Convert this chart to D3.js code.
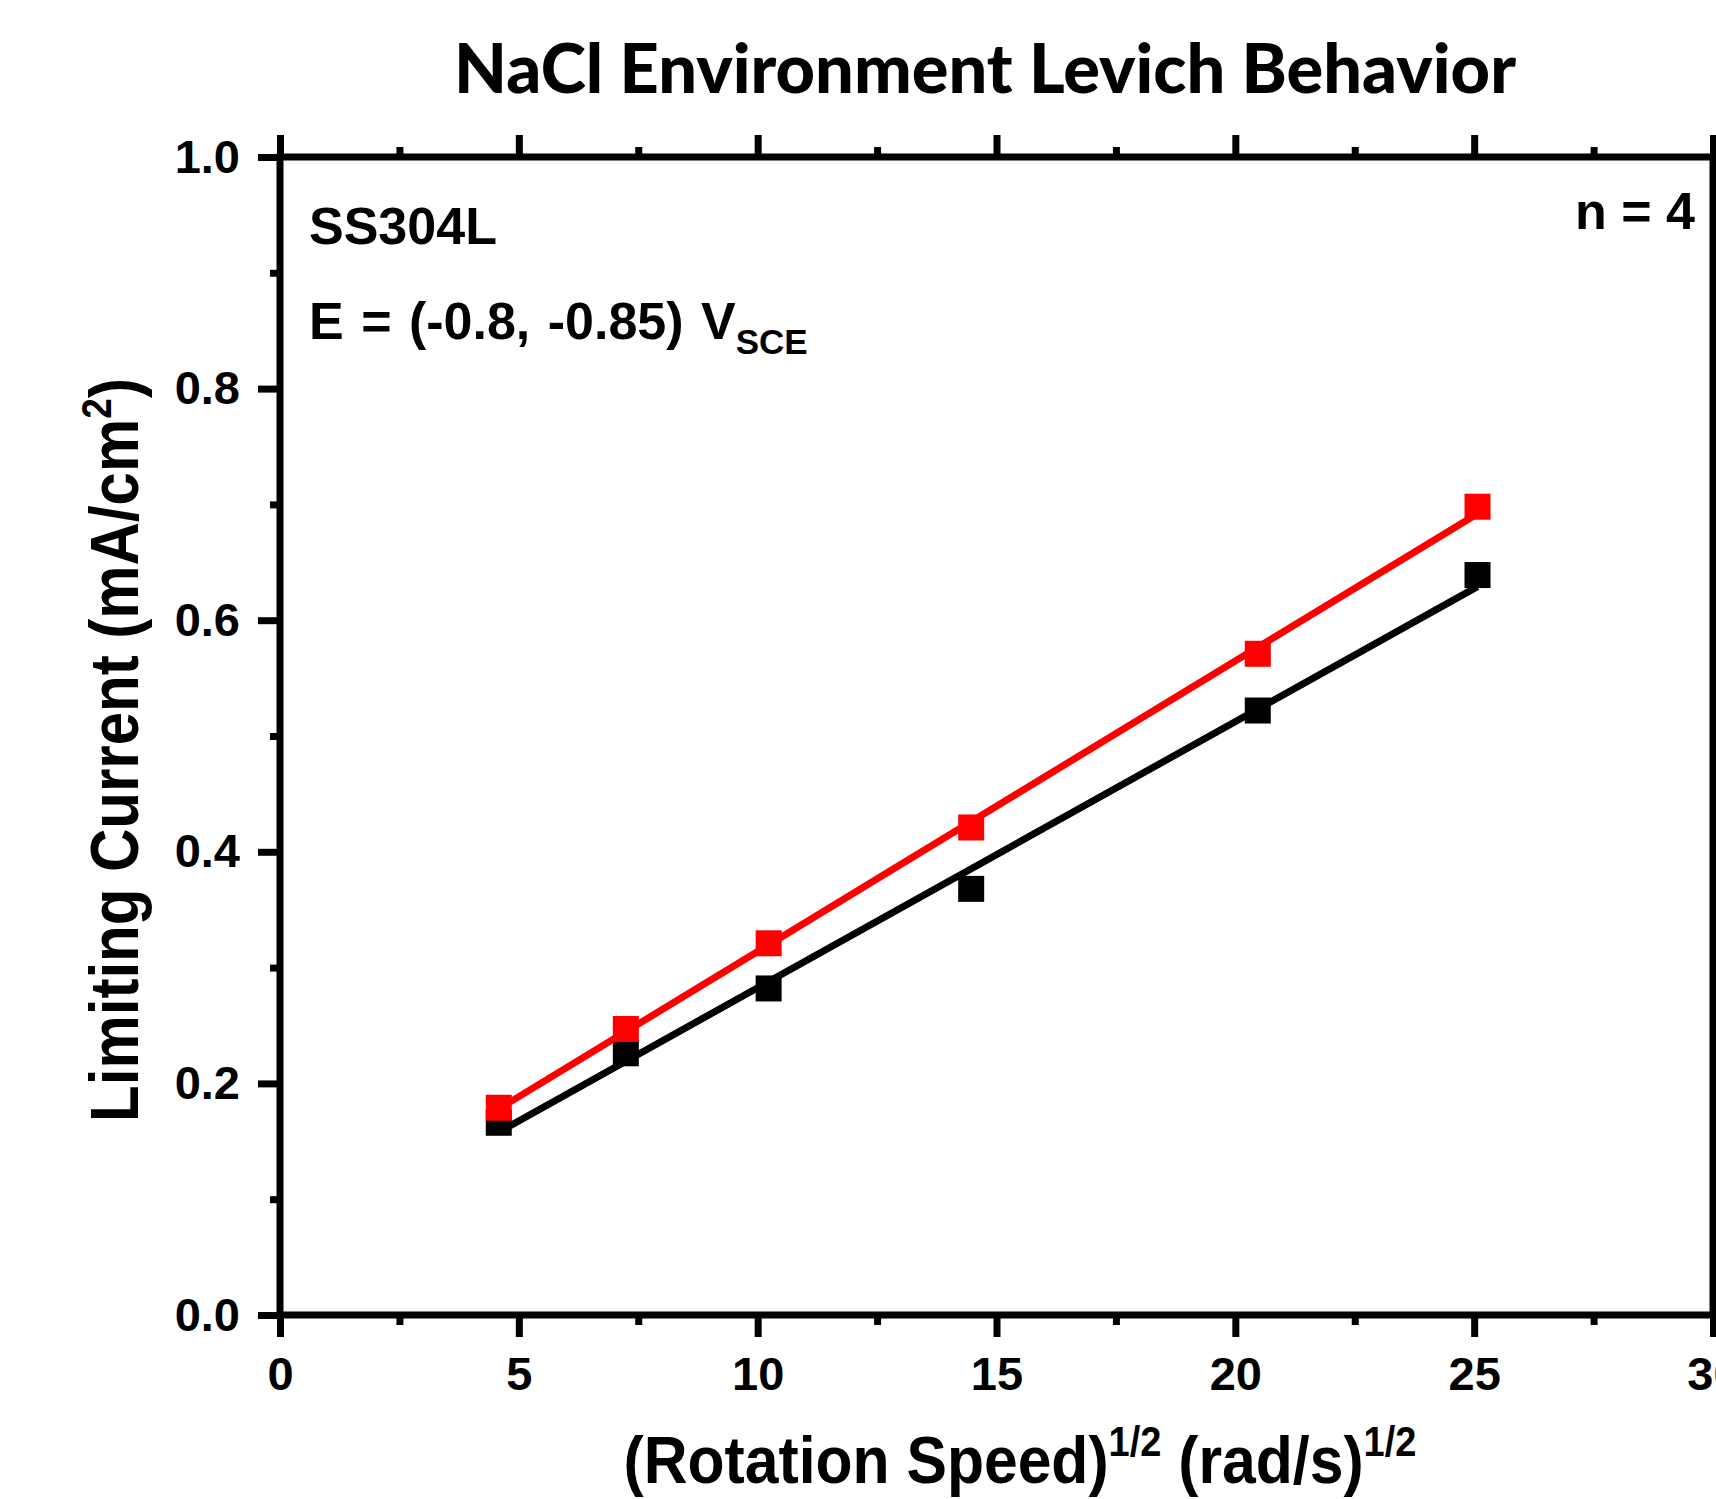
<!DOCTYPE html>
<html>
<head>
<meta charset="utf-8">
<script src="https://cdn.jsdelivr.net/npm/d3@7"></script>
<style>
  html, body { margin: 0; padding: 0; background: #fff; }
  svg { display: block; }
  text { font-family: "Liberation Sans", Arial, sans-serif; font-weight: bold; fill: #000; }
</style>
</head>
<body>
<svg id="chart" width="1716" height="1499"></svg>
<script>
// ---- data ----
const rotationSqrt = [4.58, 7.24, 10.23, 14.47, 20.47, 25.07];   // (rad/s)^1/2
const currentLow  = [0.166, 0.226, 0.282, 0.368, 0.522, 0.639]; // black series, mA/cm2
const currentHigh = [0.179, 0.247, 0.321, 0.421, 0.571, 0.698]; // red series, mA/cm2
const fitX        = [4.58, 25.07];
const fitLow      = [0.158, 0.629];
const fitHigh     = [0.178, 0.692];
const xMajorTicks = [0, 5, 10, 15, 20, 25, 30];
const xMinorTicks = [2.5, 7.5, 12.5, 17.5, 22.5, 27.5];
const yMajorTicks = [0, 0.2, 0.4, 0.6, 0.8, 1.0];
const yMinorTicks = [0.1, 0.3, 0.5, 0.7, 0.9];

const svg = d3.select("#chart");
const L = 280, R = 1713, T = 157, B = 1315;
const x = d3.scaleLinear().domain([0, 30]).range([L, R]);
const y = d3.scaleLinear().domain([0, 1]).range([B, T]);

const AX_W = 7;
function styleAxis(g) {
  g.select(".domain").remove();
  g.selectAll(".tick line").attr("stroke", "#000").attr("stroke-width", AX_W);
  g.selectAll(".tick text").style("font-size", "47px").style("font-family", '"Liberation Sans", Arial, sans-serif').style("font-weight", "bold").attr("fill", "#000");
}

// bottom axis
svg.append("g").attr("transform", `translate(0,${B})`)
  .call(d3.axisBottom(x).tickValues(xMajorTicks).tickSize(22).tickSizeOuter(0).tickPadding(20).tickFormat(d3.format("d")))
  .call(styleAxis);
svg.append("g").attr("transform", `translate(0,${B})`)
  .call(d3.axisBottom(x).tickValues(xMinorTicks).tickSize(10).tickSizeOuter(0).tickFormat(""))
  .call(styleAxis);
// top axis
svg.append("g").attr("transform", `translate(0,${T})`)
  .call(d3.axisTop(x).tickValues(xMajorTicks).tickSize(22).tickSizeOuter(0).tickFormat(""))
  .call(styleAxis);
svg.append("g").attr("transform", `translate(0,${T})`)
  .call(d3.axisTop(x).tickValues(xMinorTicks).tickSize(10).tickSizeOuter(0).tickFormat(""))
  .call(styleAxis);
// left axis
svg.append("g").attr("transform", `translate(${L},0)`)
  .call(d3.axisLeft(y).tickValues(yMajorTicks).tickSize(22).tickSizeOuter(0).tickPadding(18).tickFormat(d3.format(".1f")))
  .call(styleAxis);
svg.append("g").attr("transform", `translate(${L},0)`)
  .call(d3.axisLeft(y).tickValues(yMinorTicks).tickSize(10).tickSizeOuter(0).tickFormat(""))
  .call(styleAxis);
// right axis
svg.append("g").attr("transform", `translate(${R},0)`)
  .call(d3.axisRight(y).tickValues(yMajorTicks).tickSize(22).tickSizeOuter(0).tickFormat(""))
  .call(styleAxis);
svg.append("g").attr("transform", `translate(${R},0)`)
  .call(d3.axisRight(y).tickValues(yMinorTicks).tickSize(10).tickSizeOuter(0).tickFormat(""))
  .call(styleAxis);

// frame
svg.append("rect").attr("x", L).attr("y", T).attr("width", R - L).attr("height", B - T)
  .attr("fill", "none").attr("stroke", "#000").attr("stroke-width", AX_W).attr("stroke-linecap", "square");

// series
const line = d3.line().x(d => x(d[0])).y(d => y(d[1]));
const MS = 26;
function drawSeries(xs, ys, fx, fy, color) {
  svg.append("path").datum(fx.map((v, i) => [v, fy[i]]))
    .attr("d", line).attr("fill", "none").attr("stroke", color).attr("stroke-width", 7);
  svg.append("g").selectAll("rect").data(xs.map((v, i) => [v, ys[i]])).join("rect")
    .attr("x", d => x(d[0]) - MS / 2).attr("y", d => y(d[1]) - MS / 2)
    .attr("width", MS).attr("height", MS).attr("fill", color);
}
drawSeries(rotationSqrt, currentLow, fitX, fitLow, "#000000");
drawSeries(rotationSqrt, currentHigh, fitX, fitHigh, "#FF0000");

// annotations
svg.append("text").attr("x", 309).attr("y", 244).style("font-size", "52px").text("SS304L");
const eText = svg.append("text").attr("x", 309).attr("y", 339).style("font-size", "52px").style("word-spacing", "3px");
eText.append("tspan").text("E = (-0.8, -0.85) V");
eText.append("tspan").attr("dy", 15).style("font-size", "35px").style("word-spacing", "0px").text("SCE");
svg.append("text").attr("x", 1695).attr("y", 229).attr("text-anchor", "end").style("font-size", "52px").text("n = 4");

// helper to horizontally fit a text to a target width
function fitText(sel, target) {
  const w = sel.node().getBBox().width;
  return target / w;
}

// title
const title = svg.append("text").attr("text-anchor", "middle")
  .style("font-family", 'Lato, "Open Sans", sans-serif').style("font-size", "69px").style("font-weight", "900")
  .text("NaCl Environment Levich Behavior");
const ts = fitText(title, 1062);
title.attr("transform", `translate(985,93) scale(${ts},1)`);

// x-axis label
const xl = svg.append("text").attr("text-anchor", "middle").style("font-size", "67px");
xl.append("tspan").text("(Rotation Speed)");
xl.append("tspan").attr("dy", -27).style("font-size", "42px").text("1/2");
xl.append("tspan").attr("dy", 27).text(" (rad/s)");
xl.append("tspan").attr("dy", -27).style("font-size", "42px").text("1/2");
const xs = fitText(xl, 793);
xl.attr("transform", `translate(1020,1483) scale(${xs},1)`);

// y-axis label
const yl = svg.append("text").attr("text-anchor", "middle").style("font-size", "68px");
yl.append("tspan").text("Limiting Current (mA/cm");
yl.append("tspan").attr("dy", -27).style("font-size", "42px").text("2");
yl.append("tspan").attr("dy", 27).text(")");
const ys = fitText(yl, 744);
yl.attr("transform", `translate(138,750) rotate(-90) scale(${ys},1)`);
</script>
</body>
</html>
